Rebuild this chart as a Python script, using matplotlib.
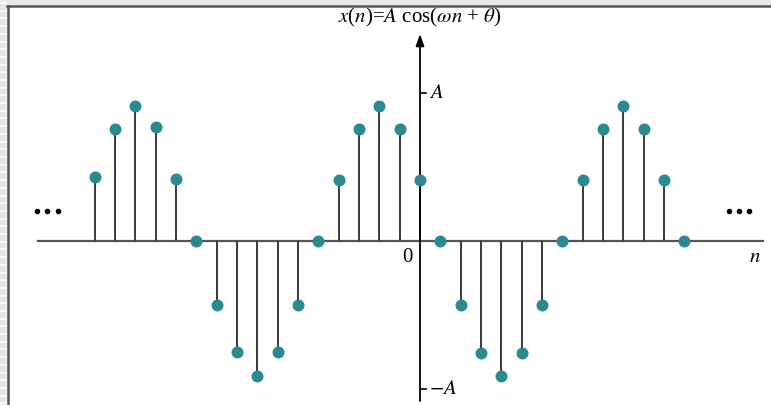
import matplotlib.pyplot as plt
import numpy as np
from matplotlib.lines import Line2D
from matplotlib.patches import Rectangle

plt.rcParams['font.family'] = ['Liberation Serif', 'DejaVu Serif']
plt.rcParams['mathtext.fontset'] = 'stix'

# sample indices and sequence values (in units of A)
n = np.arange(-16, 14)
x_n = [0.43, 0.76, 0.91, 0.77, 0.42, 0.0,
       -0.43, -0.75, -0.91, -0.75, -0.43, 0.0,
       0.41, 0.76, 0.91, 0.76, 0.41, 0.0,
       -0.43, -0.76, -0.91, -0.76, -0.43, 0.0,
       0.41, 0.76, 0.91, 0.76, 0.41, 0.0]

W, H = 771, 405
fig = plt.figure(figsize=(W / 100, H / 100), dpi=100)

# page frame: grey striped margin on the left, dark rule on top and left
fig.patches.append(Rectangle((0, 0), 7 / W, 1, transform=fig.transFigure,
                             facecolor='#e4e4e4', edgecolor='none'))
fig.patches.append(Rectangle((0, 1 - 5 / H), 1, 5 / H, transform=fig.transFigure,
                             facecolor='#e8e8e8', edgecolor='none'))
for yy in np.arange(3, H, 7.7):
    fig.lines.append(Line2D([0, 6 / W], [1 - yy / H] * 2, transform=fig.transFigure,
                            color='white', lw=1.2))
fig.lines.append(Line2D([7 / W, 1], [1 - 5.5 / H] * 2, transform=fig.transFigure,
                        color='#555555', lw=1.8))
fig.lines.append(Line2D([7.5 / W] * 2, [0, 1 - 5.5 / H], transform=fig.transFigure,
                        color='#555555', lw=1.8))

ax = fig.add_axes([0, 0, 1, 1])
ax.set_axis_off()

# scale: 20.33 px per sample, 148 px per A; origin at (420, 241)
px_n, px_a = 20.33, 148.0
x0, y0 = 420.0, 241.0
ax.set_xlim(-x0 / px_n, (W - x0) / px_n)
ax.set_ylim(-(H - y0) / px_a, y0 / px_a)

def nx(px):
    return (px - x0) / px_n

def ay(py):
    return (y0 - py) / px_a

# horizontal axis
ax.plot([nx(38), nx(763)], [0, 0], color='#555555', lw=1.6, zorder=1)
# vertical axis with arrow
ax.annotate('', xy=(0, ay(34)), xytext=(0, ay(401)),
            arrowprops=dict(arrowstyle='-|>,head_width=0.25,head_length=0.7',
                            color='black', lw=1.3, shrinkA=0, shrinkB=0))
ax.plot([0, nx(426)], [1, 1], color='black', lw=1.2)
ax.plot([0, nx(426)], [-1, -1], color='black', lw=1.2)

ml, sl, bl = ax.stem(n, x_n, basefmt=' ')
plt.setp(sl, color='#3a3a3a', linewidth=1.4)
plt.setp(ml, color='#2b8a90', markersize=7.6, zorder=3)

ax.text(0, ay(17), r'$x$($n$)=$A$ cos($\omega n$ + $\theta$)', ha='center', va='center',
        fontsize=15)
ax.text(nx(429), 1, r'$A$', ha='left', va='center', fontsize=15)
ax.text(nx(429), -1, r'$-A$', ha='left', va='center', fontsize=15)
ax.text(nx(407), ay(258), '0', ha='center', va='center', fontsize=15)
ax.text(nx(755), ay(258), r'$n$', ha='center', va='center', fontsize=15)
for xc in (37, 47, 58, 729, 739, 749):
    ax.plot(nx(xc), ay(211), 'o', color='black', markersize=3.0)

fig.savefig('out.png', dpi=100)
